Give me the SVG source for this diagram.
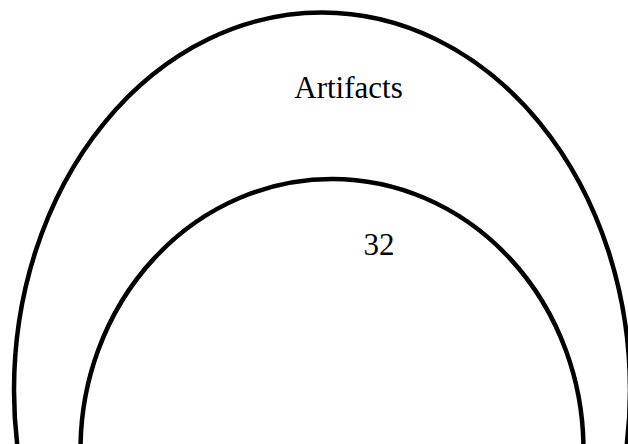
<svg xmlns="http://www.w3.org/2000/svg" width="628" height="444" viewBox="0 0 628 444">
<style>
.ring{fill:none;stroke:#000;stroke-width:4.5}
.lbl{font-family:"Liberation Serif","Times New Roman",serif;font-size:31px;fill:#000;text-anchor:middle}
</style>
<rect width="628" height="444" fill="#fff"/>
<g id="outer">
<ellipse class="ring" cx="322" cy="390" rx="308" ry="377.5"/>
<text class="lbl" x="348.5" y="98">Artifacts</text>
</g>
<g id="inner">
<ellipse class="ring" cx="332" cy="450" rx="251.5" ry="271"/>
<text class="lbl" x="379" y="255">32</text>
</g>
<g id="connectors"></g>
</svg>
